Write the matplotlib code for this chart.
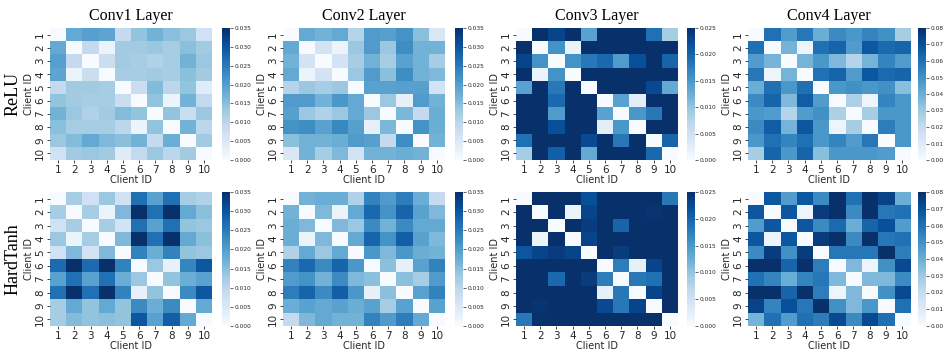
import numpy as np
import matplotlib
matplotlib.use("Agg")
import matplotlib.pyplot as plt

clients = [str(i) for i in range(1, 11)]
layers = ["Conv1 Layer", "Conv2 Layer", "Conv3 Layer", "Conv4 Layer"]
activations = ["ReLU", "HardTanh"]
vmax_list = [0.035, 0.035, 0.025, 0.08]
cbar_ticks = [
    [0.000, 0.005, 0.010, 0.015, 0.020, 0.025, 0.030, 0.035],
    [0.000, 0.005, 0.010, 0.015, 0.020, 0.025, 0.030, 0.035],
    [0.000, 0.005, 0.010, 0.015, 0.020, 0.025],
    [0.00, 0.01, 0.02, 0.03, 0.04, 0.05, 0.06, 0.07, 0.08],
]
cbar_fmt = ["%.3f", "%.3f", "%.3f", "%.2f"]

relu_conv1 = [
    [0.000, 0.0182, 0.0196, 0.0189, 0.0088, 0.0140, 0.0168, 0.0147, 0.0133, 0.0070],
    [0.0182, 0.000, 0.0088, 0.0018, 0.0126, 0.0126, 0.0133, 0.0122, 0.0147, 0.0126],
    [0.0196, 0.0088, 0.000, 0.0077, 0.0126, 0.0122, 0.0112, 0.0122, 0.0168, 0.0133],
    [0.0189, 0.0018, 0.0077, 0.000, 0.0122, 0.0122, 0.0126, 0.0122, 0.0147, 0.0126],
    [0.0088, 0.0126, 0.0126, 0.0122, 0.000, 0.0077, 0.0154, 0.0098, 0.0140, 0.0042],
    [0.0140, 0.0126, 0.0122, 0.0122, 0.0077, 0.000, 0.0140, 0.0018, 0.0168, 0.0091],
    [0.0168, 0.0133, 0.0112, 0.0126, 0.0154, 0.0140, 0.000, 0.0140, 0.0077, 0.0133],
    [0.0147, 0.0122, 0.0122, 0.0122, 0.0098, 0.0018, 0.0140, 0.000, 0.0168, 0.0098],
    [0.0133, 0.0154, 0.0182, 0.0158, 0.0147, 0.0168, 0.0088, 0.0175, 0.000, 0.0126],
    [0.0070, 0.0126, 0.0133, 0.0126, 0.0042, 0.0091, 0.0133, 0.0098, 0.0126, 0.000],
]
relu_conv2 = [
    [0.000, 0.0182, 0.0168, 0.0182, 0.0105, 0.0203, 0.0196, 0.0217, 0.0147, 0.0053],
    [0.0182, 0.000, 0.0063, 0.0018, 0.0133, 0.0203, 0.0133, 0.0224, 0.0168, 0.0168],
    [0.0168, 0.0063, 0.000, 0.0063, 0.0122, 0.0168, 0.0122, 0.0193, 0.0168, 0.0122],
    [0.0182, 0.0018, 0.0063, 0.000, 0.0133, 0.0203, 0.0147, 0.0224, 0.0168, 0.0158],
    [0.0105, 0.0133, 0.0122, 0.0133, 0.000, 0.0193, 0.0193, 0.0196, 0.0196, 0.0063],
    [0.0203, 0.0203, 0.0168, 0.0210, 0.0182, 0.000, 0.0133, 0.0028, 0.0203, 0.0168],
    [0.0196, 0.0133, 0.0112, 0.0133, 0.0182, 0.0133, 0.000, 0.0161, 0.0088, 0.0175],
    [0.0217, 0.0224, 0.0193, 0.0231, 0.0196, 0.0028, 0.0161, 0.000, 0.0217, 0.0175],
    [0.0147, 0.0168, 0.0168, 0.0175, 0.0203, 0.0196, 0.0088, 0.0224, 0.000, 0.0168],
    [0.0053, 0.0168, 0.0122, 0.0158, 0.0063, 0.0168, 0.0168, 0.0175, 0.0168, 0.000],
]
relu_conv3 = [
    [0.000, 0.0260, 0.0230, 0.0260, 0.0138, 0.0260, 0.0260, 0.0260, 0.0188, 0.0088],
    [0.0260, 0.000, 0.0155, 0.0013, 0.0260, 0.0260, 0.0260, 0.0260, 0.0260, 0.0260],
    [0.0230, 0.0155, 0.000, 0.0155, 0.0180, 0.0195, 0.0145, 0.0220, 0.0260, 0.0200],
    [0.0260, 0.0013, 0.0155, 0.000, 0.0260, 0.0260, 0.0260, 0.0260, 0.0260, 0.0260],
    [0.0138, 0.0260, 0.0180, 0.0260, 0.000, 0.0260, 0.0260, 0.0260, 0.0225, 0.0130],
    [0.0260, 0.0260, 0.0195, 0.0260, 0.0260, 0.000, 0.0138, 0.0025, 0.0260, 0.0260],
    [0.0260, 0.0260, 0.0145, 0.0260, 0.0260, 0.0138, 0.000, 0.0150, 0.0180, 0.0260],
    [0.0260, 0.0260, 0.0220, 0.0260, 0.0260, 0.0025, 0.0150, 0.000, 0.0260, 0.0260],
    [0.0188, 0.0260, 0.0260, 0.0260, 0.0225, 0.0260, 0.0180, 0.0260, 0.000, 0.0200],
    [0.0088, 0.0260, 0.0205, 0.0260, 0.0130, 0.0260, 0.0260, 0.0260, 0.0195, 0.000],
]
relu_conv4 = [
    [0.000, 0.060, 0.046, 0.058, 0.040, 0.052, 0.048, 0.054, 0.050, 0.028],
    [0.060, 0.000, 0.038, 0.004, 0.060, 0.064, 0.046, 0.068, 0.062, 0.064],
    [0.046, 0.038, 0.000, 0.038, 0.048, 0.036, 0.024, 0.038, 0.054, 0.046],
    [0.058, 0.004, 0.038, 0.000, 0.060, 0.064, 0.046, 0.068, 0.062, 0.064],
    [0.040, 0.060, 0.048, 0.060, 0.000, 0.048, 0.050, 0.048, 0.050, 0.034],
    [0.052, 0.064, 0.036, 0.066, 0.046, 0.000, 0.026, 0.004, 0.054, 0.048],
    [0.048, 0.046, 0.024, 0.046, 0.050, 0.026, 0.000, 0.028, 0.048, 0.048],
    [0.052, 0.066, 0.038, 0.068, 0.048, 0.004, 0.028, 0.000, 0.056, 0.048],
    [0.048, 0.060, 0.054, 0.060, 0.048, 0.054, 0.046, 0.058, 0.000, 0.048],
    [0.028, 0.064, 0.048, 0.064, 0.034, 0.048, 0.048, 0.048, 0.046, 0.000],
]
hardtanh_conv1 = [
    [0.000, 0.0122, 0.0070, 0.0133, 0.0070, 0.0263, 0.0193, 0.0263, 0.0122, 0.0112],
    [0.0122, 0.000, 0.0122, 0.0018, 0.0158, 0.0350, 0.0263, 0.0350, 0.0182, 0.0147],
    [0.0070, 0.0122, 0.000, 0.0122, 0.0063, 0.0263, 0.0193, 0.0263, 0.0140, 0.0133],
    [0.0133, 0.0018, 0.0122, 0.000, 0.0158, 0.0350, 0.0263, 0.0350, 0.0182, 0.0147],
    [0.0070, 0.0158, 0.0063, 0.0158, 0.000, 0.0238, 0.0175, 0.0238, 0.0140, 0.0133],
    [0.0270, 0.0350, 0.0270, 0.0350, 0.0238, 0.000, 0.0133, 0.0025, 0.0235, 0.0298],
    [0.0193, 0.0263, 0.0193, 0.0263, 0.0175, 0.0133, 0.000, 0.0140, 0.0175, 0.0193],
    [0.0263, 0.0350, 0.0263, 0.0350, 0.0238, 0.0025, 0.0140, 0.000, 0.0228, 0.0298],
    [0.0122, 0.0182, 0.0140, 0.0182, 0.0140, 0.0228, 0.0175, 0.0228, 0.000, 0.0182],
    [0.0122, 0.0154, 0.0140, 0.0147, 0.0140, 0.0298, 0.0193, 0.0287, 0.0182, 0.000],
]
hardtanh_conv2 = [
    [0.000, 0.0168, 0.0175, 0.0175, 0.0112, 0.0238, 0.0203, 0.0245, 0.0175, 0.0088],
    [0.0168, 0.000, 0.0158, 0.0018, 0.0182, 0.0273, 0.0217, 0.0280, 0.0193, 0.0158],
    [0.0175, 0.0158, 0.000, 0.0158, 0.0133, 0.0228, 0.0168, 0.0228, 0.0182, 0.0182],
    [0.0175, 0.0018, 0.0158, 0.000, 0.0182, 0.0280, 0.0217, 0.0287, 0.0193, 0.0158],
    [0.0112, 0.0182, 0.0133, 0.0182, 0.000, 0.0210, 0.0158, 0.0210, 0.0175, 0.0168],
    [0.0238, 0.0273, 0.0228, 0.0280, 0.0210, 0.000, 0.0147, 0.0028, 0.0193, 0.0238],
    [0.0203, 0.0217, 0.0168, 0.0228, 0.0158, 0.0147, 0.000, 0.0147, 0.0122, 0.0203],
    [0.0245, 0.0280, 0.0228, 0.0287, 0.0210, 0.0028, 0.0147, 0.000, 0.0193, 0.0238],
    [0.0175, 0.0193, 0.0182, 0.0193, 0.0175, 0.0193, 0.0122, 0.0193, 0.000, 0.0193],
    [0.0088, 0.0158, 0.0182, 0.0168, 0.0168, 0.0238, 0.0203, 0.0245, 0.0182, 0.000],
]
hardtanh_conv3 = [
    [0.000, 0.0260, 0.0260, 0.0260, 0.0220, 0.0260, 0.0260, 0.0260, 0.0260, 0.0180],
    [0.0260, 0.000, 0.0260, 0.0013, 0.0230, 0.0260, 0.0260, 0.0260, 0.0245, 0.0260],
    [0.0260, 0.0260, 0.000, 0.0260, 0.0238, 0.0260, 0.0200, 0.0260, 0.0260, 0.0260],
    [0.0260, 0.0015, 0.0260, 0.000, 0.0230, 0.0260, 0.0260, 0.0260, 0.0260, 0.0260],
    [0.0213, 0.0230, 0.0238, 0.0230, 0.000, 0.0260, 0.0238, 0.0260, 0.0260, 0.0260],
    [0.0260, 0.0260, 0.0260, 0.0260, 0.0260, 0.000, 0.0175, 0.0020, 0.0230, 0.0260],
    [0.0260, 0.0260, 0.0195, 0.0260, 0.0238, 0.0175, 0.000, 0.0180, 0.0188, 0.0260],
    [0.0260, 0.0260, 0.0260, 0.0260, 0.0260, 0.0020, 0.0180, 0.000, 0.0230, 0.0260],
    [0.0260, 0.0245, 0.0260, 0.0260, 0.0260, 0.0225, 0.0180, 0.0230, 0.000, 0.0260],
    [0.0180, 0.0260, 0.0260, 0.0260, 0.0260, 0.0260, 0.0260, 0.0260, 0.0260, 0.000],
]
hardtanh_conv4 = [
    [0.000, 0.068, 0.046, 0.068, 0.052, 0.080, 0.060, 0.080, 0.074, 0.040],
    [0.068, 0.000, 0.068, 0.004, 0.076, 0.080, 0.052, 0.080, 0.058, 0.060],
    [0.046, 0.068, 0.000, 0.068, 0.052, 0.062, 0.040, 0.064, 0.070, 0.046],
    [0.068, 0.004, 0.068, 0.000, 0.076, 0.080, 0.052, 0.080, 0.058, 0.060],
    [0.052, 0.076, 0.050, 0.076, 0.000, 0.058, 0.058, 0.058, 0.080, 0.056],
    [0.080, 0.080, 0.064, 0.080, 0.056, 0.000, 0.036, 0.004, 0.050, 0.072],
    [0.060, 0.054, 0.040, 0.054, 0.058, 0.036, 0.000, 0.036, 0.036, 0.052],
    [0.080, 0.080, 0.064, 0.080, 0.056, 0.004, 0.036, 0.000, 0.050, 0.072],
    [0.074, 0.054, 0.070, 0.058, 0.080, 0.050, 0.036, 0.048, 0.000, 0.060],
    [0.038, 0.060, 0.046, 0.060, 0.056, 0.072, 0.052, 0.072, 0.060, 0.000],
]

matrices = [
    [relu_conv1, relu_conv2, relu_conv3, relu_conv4],
    [hardtanh_conv1, hardtanh_conv2, hardtanh_conv3, hardtanh_conv4],
]

W, H = 945, 352
fig = plt.figure(figsize=(W / 100, H / 100), dpi=100)

hm_x0 = [50, 283, 516, 748]
hm_w = 162
cb_x0 = [222, 455, 687, 918]
cb_w = 8
row_y = [(28, 160), (192, 326)]

def frac(x0, y_top, w, h):
    return [x0 / W, 1 - (y_top + h) / H, w / W, h / H]

serif = ["Liberation Serif", "DejaVu Serif"]
tick_color = "#262626"

for r in range(2):
    yt, yb = row_y[r]
    h = yb - yt
    for c in range(4):
        ax = fig.add_axes(frac(hm_x0[c], yt, hm_w, h))
        data = np.array(matrices[r][c])
        im = ax.imshow(data, cmap="Blues", vmin=0, vmax=vmax_list[c],
                       aspect="auto", interpolation="nearest")
        ax.set_xticks(range(10))
        ax.set_xticklabels(clients, fontsize=7.5, color=tick_color)
        ax.set_yticks(range(10))
        ax.set_yticklabels(clients, fontsize=7.5, rotation=90, va="center",
                           color=tick_color)
        ax.tick_params(length=2, width=0.6, color=tick_color, pad=1.5)
        for s in ax.spines.values():
            s.set_visible(False)
        ax.set_xlabel("Client ID", fontsize=7, color=tick_color, labelpad=0)
        ax.set_ylabel("Client ID", fontsize=7, color=tick_color, labelpad=1)
        if r == 0:
            ax.set_title(layers[c], fontsize=11.5, family=serif, pad=6)
        cax = fig.add_axes(frac(cb_x0[c], yt, cb_w, h))
        cb = fig.colorbar(im, cax=cax, ticks=cbar_ticks[c], format=cbar_fmt[c])
        cb.outline.set_visible(False)
        cax.tick_params(labelsize=4.2, length=2, width=0.5, pad=1,
                        colors=tick_color)
    fig.text(13 / W, 1 - (yt + h / 2) / H, activations[r], rotation=90,
             ha="center", va="center", fontsize=13, family=serif)

fig.savefig("out.png", dpi=100)
